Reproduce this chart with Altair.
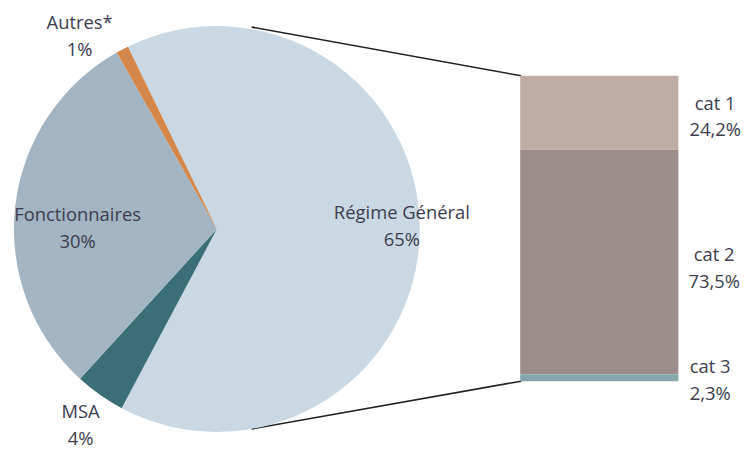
import math
import altair as alt
import pandas as pd

# ---- data ----
pie_labels = ["Régime Général", "MSA", "Fonctionnaires", "Autres*"]
pie_values = [65, 4, 30, 1]
pie_colors = ["#c9d8e3", "#3b6f78", "#a3b4c2", "#d4874a"]

bar_labels = ["cat 1", "cat 2", "cat 3"]
bar_values = [24.2, 73.5, 2.3]
bar_texts = ["24,2%", "73,5%", "2,3%"]
bar_colors = ["#bfaca5", "#9c8d8a", "#86a6ad"]

# ---- layout (chart pixel space) ----
W, H = 733, 434
cx, cy, r = 210, 221, 204
start = math.radians(-26)
bar_x0, bar_x1 = 515, 674
bar_bottom, bar_top = 374, 67
pie_label_pos = [(396, 205), (73, 405), (70, 207), (72, 14)]
bar_label_pos = [(711, 95), (710, 247), (706, 360)]
connectors = [(245, 18, 516, 67), (245, 422, 516, 374)]
font = "Open Sans"
txt_color = "#3d3d4f"

pie_df = pd.DataFrame({"cat": pie_labels, "val": pie_values, "ord": range(len(pie_labels))})
bar_df = pd.DataFrame({"cat": bar_labels, "val": bar_values, "ord": range(len(bar_labels))})

pie = alt.Chart(pie_df).mark_arc(outerRadius=r).encode(
    theta=alt.Theta("val:Q", stack=True,
                    scale=alt.Scale(range=[start, start + 2 * math.pi])),
    color=alt.Color("cat:N", scale=alt.Scale(domain=pie_labels, range=pie_colors), legend=None),
    order=alt.Order("ord:Q"),
    x=alt.value(cx), y=alt.value(cy),
)

bar = alt.Chart(bar_df).transform_stack(
    stack="val", as_=["y0", "y1"], groupby=[],
    sort=[alt.SortField("ord", order="descending")]
).mark_bar().encode(
    y=alt.Y("y0:Q", axis=None,
            scale=alt.Scale(domain=[0, 100], range=[bar_bottom, bar_top])),
    y2="y1:Q",
    color=alt.Color("cat:N", scale=alt.Scale(domain=bar_labels, range=bar_colors), legend=None),
    x=alt.value(bar_x0), x2=alt.value(bar_x1),
)

lab_rows = []
for (name, v), (x, y) in zip(zip(pie_labels, pie_values), pie_label_pos):
    lab_rows.append({"t": f"{name}\n{v}%", "x": x, "y": y})
for (name, t), (x, y) in zip(zip(bar_labels, bar_texts), bar_label_pos):
    lab_rows.append({"t": f"{name}\n{t}", "x": x, "y": y})
lab_df = pd.DataFrame(lab_rows)

labels = alt.Chart(lab_df).mark_text(
    font=font, fontSize=18.5, color=txt_color, lineBreak="\n", lineHeight=27,
    align="center", baseline="middle"
).encode(
    text="t:N",
    x=alt.X("x:Q", scale=alt.Scale(domain=[0, W], range=[0, W]), axis=None),
    y=alt.Y("y:Q", scale=alt.Scale(domain=[0, H], range=[0, H]), axis=None),
)

con_df = pd.DataFrame(connectors, columns=["x", "y", "x2", "y2"])
lines = alt.Chart(con_df).mark_rule(color="#222222", strokeWidth=1.6).encode(
    x=alt.X("x:Q", scale=alt.Scale(domain=[0, W], range=[0, W]), axis=None),
    y=alt.Y("y:Q", scale=alt.Scale(domain=[0, H], range=[0, H]), axis=None),
    x2="x2:Q", y2="y2:Q",
)

chart = alt.layer(lines, pie, bar, labels).resolve_scale(
    x="independent", y="independent", color="independent"
).properties(width=W, height=H, padding=0).configure_view(stroke=None)

chart.save("out.html", embed_options={"renderer": "svg", "actions": False})
